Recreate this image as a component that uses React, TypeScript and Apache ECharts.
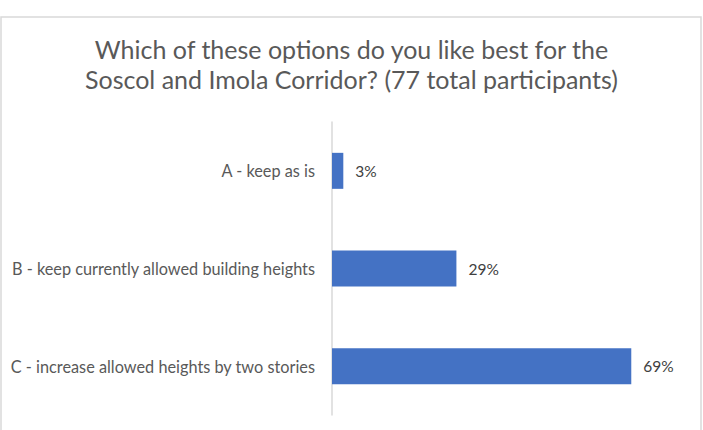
import React, { useEffect, useRef } from "react";
import * as echarts from "echarts";

const titleLines = [
  "Which of these options do you like best for the",
  "Soscol and Imola Corridor? (77 total participants)",
];
const categories = [
  "A - keep as is",
  "B - keep currently allowed building heights",
  "C - increase allowed heights by two stories",
];
const percentValues = [2.6, 28.6, 68.8];

export default function App() {
  const ref = useRef<HTMLDivElement>(null);
  useEffect(() => {
    document.body.style.margin = "0";
    const chart = echarts.init(ref.current!, null, { renderer: "svg" });
    chart.setOption({
      animation: false,
      backgroundColor: "#ffffff",
      textStyle: { fontFamily: "Lato" },
      graphic: [
        {
          type: "rect",
          shape: { x: 1, y: 17, width: 700, height: 430 },
          style: { fill: "none", stroke: "#d9d9d9", lineWidth: 1.5 },
          silent: true,
          z: 0,
        },
      ],
      title: {
        text: titleLines.join("\n"),
        left: "center",
        top: 29,
        textStyle: {
          fontFamily: "Lato",
          fontWeight: "normal",
          fontSize: 25,
          lineHeight: 30,
          color: "#595959",
        },
      },
      grid: { left: 332, right: 23, top: 122, bottom: 15, containLabel: false },
      xAxis: {
        type: "value",
        min: 0,
        max: 80,
        show: false,
        splitLine: { show: false },
      },
      yAxis: {
        type: "category",
        data: categories,
        inverse: true,
        axisLine: { show: true, lineStyle: { color: "#d9d9d9", width: 1.5 } },
        axisTick: { show: false },
        axisLabel: {
          margin: 17,
          color: "#595959",
          fontSize: 16.3,
          fontFamily: "Lato",
        },
      },
      series: [
        {
          type: "bar",
          data: percentValues,
          barWidth: 36,
          itemStyle: { color: "#4472C4" },
          label: {
            show: true,
            position: "right",
            distance: 12,
            color: "#404040",
            fontSize: 15.5,
            fontFamily: "Lato",
            formatter: (p: any) => Math.round(p.value) + "%",
          },
        },
      ],
    });
    return () => chart.dispose();
  }, []);
  return <div ref={ref} style={{ width: 703, height: 430 }} />;
}
